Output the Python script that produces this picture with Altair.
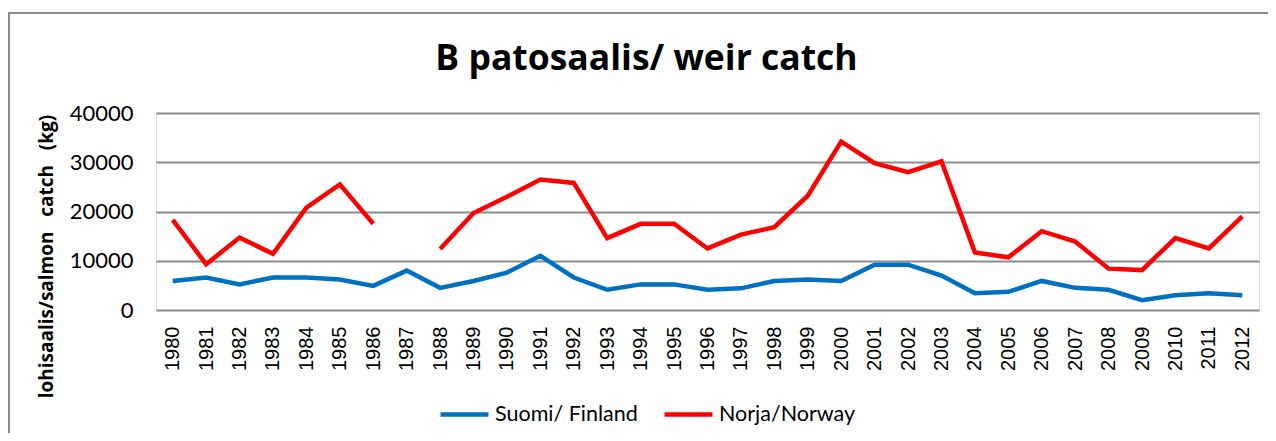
import altair as alt
import pandas as pd

years = list(range(1980, 2013))
finland = [5900, 6600, 5200, 6600, 6600, 6200, 4900, 8000, 4500, 5900,
           7600, 11000, 6600, 4100, 5200, 5200, 4100, 4400, 5900, 6200,
           5900, 9200, 9200, 7000, 3400, 3700, 5900, 4500, 4100, 2000,
           3000, 3400, 3000]
norway = [18300, 9300, 14700, 11400, 20800, 25500, 17500, None, 12400, 19700,
          23000, 26500, 25800, 14600, 17500, 17500, 12500, 15300, 16800, 23200,
          34200, 29800, 28000, 30200, 11700, 10700, 16000, 13900, 8400, 8100,
          14600, 12500, 19000]
series_names = ["Suomi/ Finland", "Norja/Norway"]
series_colors = ["#0070C0", "#FF0000"]

rows = []
for i, y in enumerate(years):
    rows.append({"year": str(y), "series": series_names[0], "value": finland[i]})
    rows.append({"year": str(y), "series": series_names[1], "value": norway[i]})
df = pd.DataFrame(rows)

FONT = "Lato"
BOLD_FONT = "Open Sans"

lines = alt.Chart(df).mark_line(strokeWidth=4.5, strokeJoin="miter").encode(
    x=alt.X("year:O", title=None,
            axis=alt.Axis(labelAngle=-90, labelFont="Liberation Sans", labelFontSize=20,
                          labelColor="#000000", labelPadding=16, ticks=False,
                          domain=False, grid=False)),
    y=alt.Y("value:Q", title="lohisaalis/salmon\u00a0\u00a0 catch\u00a0\u00a0 (kg)",
            scale=alt.Scale(domain=[0, 40000], nice=False),
            axis=alt.Axis(values=[0, 10000, 20000, 30000, 40000], format="d",
                          labelFont=FONT, labelFontSize=22, labelColor="#000000",
                          labelPadding=23, ticks=False, domain=False,
                          grid=True, gridColor="#8c8c8c", gridWidth=2,
                          titleFont=BOLD_FONT, titleFontSize=19, titleFontWeight="bold",
                          titleColor="#000000", titleAngle=-90, titleX=-110,
                          titleY=143, titleAlign="center", titleBaseline="middle")),
    color=alt.Color("series:N", scale=alt.Scale(domain=series_names, range=series_colors),
                    sort=series_names,
                    legend=alt.Legend(title=None, orient="none", direction="horizontal",
                                      legendX=282, legendY=275,
                                      symbolType="stroke", symbolStrokeWidth=4.5,
                                      symbolSize=2300, labelFont=FONT, labelFontSize=21.5,
                                      labelColor="#000000", labelOffset=4,
                                      columnPadding=17)),
)

border = alt.Chart(pd.DataFrame({"k": [0]})).mark_rect(
    fill=None, stroke="#8c8c8c", strokeWidth=2
).encode(x=alt.value(-147), x2=alt.value(1300), y=alt.value(-100), y2=alt.value(400))

chart = alt.layer(border, lines).properties(
    width=1103, height=197,
    title=alt.Title("B patosaalis/ weir catch", font=BOLD_FONT, fontSize=35.5, fontWeight="bold",
                    color="#000000", anchor="middle", frame="group", baseline="alphabetic",
                    offset=0, dx=-61, dy=93),
    padding={"left": 148, "top": 105, "right": 9, "bottom": 123},
    autosize=alt.AutoSizeParams(type="none"),
).configure_view(stroke=None).configure(background="white")

chart.save("out.html", embed_options={"renderer": "svg", "actions": False})
